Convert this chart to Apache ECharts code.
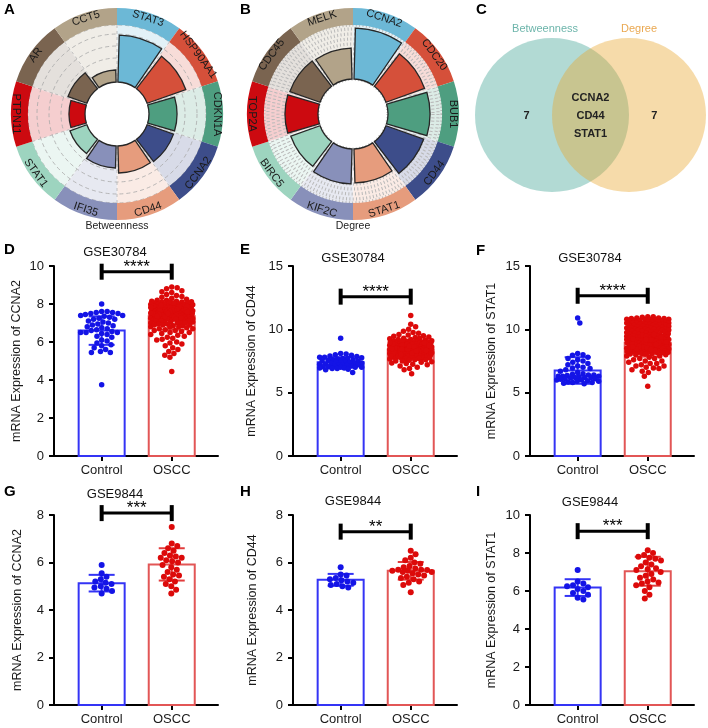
<!DOCTYPE html>
<html><head><meta charset="utf-8">
<script src="https://cdn.jsdelivr.net/npm/echarts@6/dist/echarts.min.js"></script>
<style>html,body{margin:0;padding:0;background:#fff}#c{width:708px;height:728px}</style>
</head><body><div id="c"></div>
<script>
// ---------- Panels A / B (circular bar plots) ----------
const betweenGenes = ['STAT3','HSP90AA1','CDKN1A','CCNA2','CD44','IFI35','STAT1','PTPN11','AR','CCT5'];
const betweenValues = [47,41,28,28,27,22,18,16,20,12];
const degreeGenes = ['CCNA2','CDC20','BUB1','CD44','STAT1','KIF2C','BIRC5','TOP2A','CDC45','MELK'];
const degreeValues = [51,41,42,40,34,35,31,33,32,31];
const ringColors = ['#6cb8d6','#d5503a','#4e9e80','#3d4d8a','#e69c7d','#8890ba','#9dd4bf','#cc0a10','#7a6450','#b2a389'];

// ---------- Panel C (Venn) ----------
const vennSets = ['Betweenness','Degree'];
const vennOnly = [7,7];
const vennShared = ['CCNA2','CD44','STAT1'];

// ---------- Panels D-I ----------
const groups = ['Control','OSCC'];
const panelTitles = ['GSE30784','GSE30784','GSE30784','GSE9844','GSE9844','GSE9844'];
const panelGenes = ['CCNA2','CD44','STAT1','CCNA2','CD44','STAT1'];
const yMaxes = [10,15,15,8,8,10];
const ySteps = [2,5,5,2,2,2];
const meanValues = [[6.6,7.35],[7.4,8.4],[6.75,8.95],[5.13,5.92],[5.27,5.65],[6.18,7.04]];
const sdValues = [[0.75,0.7],[0.4,0.6],[1.05,1.1],[0.35,0.68],[0.25,0.37],[0.44,0.76]];
const sigLevels = [9.7,12.58,12.65,8.08,7.3,9.15];
const sigStars = ['****','****','****','***','**','***'];

const ctrlCCNA2_30784 = [8.0,7.6,7.6,7.55,7.55,7.5,7.5,7.45,7.4,7.4,7.35,7.3,7.25,7.2,7.2,7.1,7.05,7.0,6.95,6.9,6.85,6.8,6.75,6.7,6.65,6.6,6.55,6.5,6.5,6.5,6.45,6.4,6.3,6.25,6.1,6.05,5.95,5.85,5.8,5.7,5.6,5.5,5.45,5.45,3.75];
const osccCCNA2_30784 = [8.9,8.85,8.8,8.7,8.65,8.6,8.5,8.45,8.4,8.35,
 8.3,8.25,8.2,8.2,8.15,8.1,8.1,8.05,8.0,8.0,8.0,7.95,7.9,7.9,7.9,7.85,7.85,7.8,7.8,7.8,
 7.75,7.75,7.7,7.7,7.7,7.65,7.65,7.65,7.6,7.6,7.6,7.6,7.55,7.55,7.55,7.5,7.5,7.5,7.5,7.45,7.45,7.45,7.4,7.4,7.4,7.4,7.35,7.35,7.35,7.3,7.3,7.3,7.3,7.25,7.25,7.25,7.2,7.2,7.2,7.2,
 7.15,7.15,7.1,7.1,7.1,7.05,7.05,7.0,7.0,7.0,6.95,6.95,6.9,6.9,6.85,6.85,6.8,6.8,6.75,6.7,6.7,6.65,6.6,6.6,6.55,6.5,6.5,6.45,6.4,6.35,
 6.3,6.25,6.2,6.15,6.1,6.0,5.95,5.9,5.8,5.7,5.6,5.5,5.4,5.3,5.2,4.45,
 8.15,8.1,8.05,8.0,7.95,7.9,7.85,7.8,7.75,7.7,7.65,7.6,7.55,7.5,7.45,7.4,7.35,7.3,7.25,7.2,
 8.12,8.08,7.98,7.96,7.93,7.88,7.81,7.78,7.73,7.69,7.63,7.58,7.53,7.48,7.44,7.38,7.33,7.28,7.22,7.18,
 7.8,7.7,7.6,7.5,7.4,7.3,7.2,7.1,7.0,6.9,6.8];
const ctrlCD44_30784 = [9.3,8.1,8.05,8.0,7.95,7.9,7.85,7.8,7.8,7.75,7.7,7.7,7.65,7.6,7.6,7.55,7.5,7.5,7.45,7.45,7.4,7.4,7.35,7.3,7.3,7.25,7.25,7.2,7.2,7.2,7.15,7.1,7.1,7.05,7.05,7.0,7.0,7.0,6.95,6.95,6.9,6.9,6.85,6.8,6.6];
const osccCD44_30784 = [11.1,10.4,10.2,10.0,9.85,9.75,9.7,9.6,9.55,9.5,9.45,9.4,9.35,9.3,9.3,9.25,9.2,9.2,9.15,9.1,
 9.1,9.05,9.05,9.0,9.0,9.0,8.95,8.95,8.9,8.9,8.9,8.85,8.85,8.8,8.8,8.8,8.75,8.75,8.7,8.7,8.7,8.65,8.65,8.6,8.6,8.6,8.6,8.55,8.55,8.55,
 8.5,8.5,8.5,8.5,8.5,8.5,8.45,8.45,8.45,8.45,8.45,8.45,8.4,8.4,8.4,8.4,8.4,8.4,8.4,8.35,8.35,8.35,8.35,8.35,8.35,8.3,8.3,8.3,8.3,8.3,8.3,8.25,8.25,8.25,8.25,8.25,8.2,8.2,8.2,8.2,8.2,8.15,8.15,8.15,8.15,8.15,8.1,8.1,8.1,8.1,8.1,8.05,8.05,8.05,8.05,8.0,8.0,8.0,8.0,
 7.95,7.95,7.9,7.9,7.9,7.85,7.85,7.8,7.8,7.8,7.75,7.75,7.7,7.7,7.65,7.6,7.6,7.55,7.5,7.5,7.45,7.4,7.35,7.3,7.25,7.2,7.1,7.0,6.9,6.8,
 8.52,8.47,8.42,8.37,8.32,8.27,8.22,8.17,8.12,8.62,8.72,8.82,8.92,9.02,8.48,8.38,8.28,8.18,8.67,8.77,8.87,8.97,8.07,8.02,7.92,6.5,8.43,8.33];
const ctrlSTAT1_30784 = [10.9,10.5,8.1,8.0,7.95,7.8,7.7,7.6,7.5,7.4,7.3,7.2,7.1,7.0,6.95,6.9,6.8,6.7,6.6,6.5,6.45,6.4,6.4,6.35,6.3,6.3,6.3,6.25,6.2,6.2,6.2,6.15,6.1,6.1,6.05,6.0,6.0,5.95,5.9,5.9,5.85,5.8,5.8,5.75,5.7];
const osccSTAT1_30784 = [11.0,11.0,10.95,10.9,10.9,10.85,10.85,10.8,10.8,10.8,10.75,10.75,10.7,10.7,10.7,10.65,10.6,10.6,10.6,10.55,
 10.5,10.5,10.5,10.5,10.5,10.45,10.45,10.4,10.4,10.4,10.35,10.35,10.3,10.3,10.3,10.25,10.25,10.2,10.2,10.2,10.15,10.1,10.1,10.1,10.05,10.05,10.0,10.0,10.0,10.0,
 9.95,9.95,9.9,9.9,9.9,9.85,9.85,9.8,9.8,9.8,9.75,9.7,9.7,9.65,9.6,9.6,9.55,9.5,9.5,9.45,9.4,9.4,9.35,9.3,9.3,9.25,9.2,9.2,9.15,9.1,
 9.05,9.0,9.0,8.95,8.9,8.85,8.8,8.8,8.75,8.7,8.65,8.6,8.55,8.5,8.45,8.4,8.35,8.3,8.25,8.2,8.15,8.1,8.05,8.0,7.9,7.8,7.7,7.6,7.5,7.4,
 7.3,7.2,7.1,7.0,6.9,6.8,6.6,6.3,5.5,
 9.6,9.5,9.4,9.3,9.2,9.1,9.0,8.9,8.8,8.7,8.6,8.5,8.4,8.3,8.2,8.1,8.0,
 9.55,9.45,9.35,9.25,9.15,9.05,8.95,8.85,8.75,8.65,8.55,8.45,8.35,8.25,8.15,8.05,
 9.6,9.4,9.2,9.0,8.8,8.6,8.4,8.2,7.9,7.7,7.5,7.3,7.1,6.95,6.7];
const ctrlCCNA2_9844 = [5.9,5.55,5.4,5.3,5.2,5.15,5.1,5.0,4.95,4.9,4.8,4.7];
const osccCCNA2_9844 = [7.5,6.8,6.7,6.6,6.5,6.4,6.3,6.25,6.2,6.2,6.1,6.05,6.0,5.9,5.8,5.7,5.6,5.5,5.45,5.4,5.3,5.2,5.1,5.0,4.85,4.7];
const ctrlCD44_9844 = [5.8,5.5,5.45,5.35,5.3,5.25,5.2,5.15,5.1,5.05,5.0,4.95];
const osccCD44_9844 = [6.5,6.35,6.2,6.1,6.0,5.95,5.85,5.8,5.75,5.7,5.7,5.68,5.65,5.65,5.6,5.6,5.55,5.5,5.45,5.4,5.35,5.3,5.2,5.15,5.05,4.75];
const ctrlSTAT1_9844 = [7.1,6.5,6.4,6.3,6.25,6.2,6.1,6.0,5.9,5.8,5.65,5.55];
const osccSTAT1_9844 = [8.15,8.0,7.9,7.8,7.75,7.7,7.6,7.5,7.4,7.3,7.2,7.15,7.1,7.0,6.9,6.8,6.7,6.6,6.5,6.45,6.4,6.3,6.2,6.0,5.8,5.6];
const panelPoints = [
  [ctrlCCNA2_30784, osccCCNA2_30784],
  [ctrlCD44_30784, osccCD44_30784],
  [ctrlSTAT1_30784, osccSTAT1_30784],
  [ctrlCCNA2_9844, osccCCNA2_9844],
  [ctrlCD44_9844, osccCD44_9844],
  [ctrlSTAT1_9844, osccSTAT1_9844]
];

// ---------- layout & style (not data) ----------
const FONT = '"Liberation Sans", Arial, Helvetica, sans-serif';
const ringA = {cx:117, cy:114, r0:32, r1:89, r2:106};
const ringB = {cx:353, cy:114, r0:35, r1:89, r2:106};
const panelBox = [
  {left:54, top:266, nameGap:31}, {left:293, top:266, nameGap:35}, {left:530, top:266, nameGap:32},
  {left:54, top:515, nameGap:30}, {left:293, top:515, nameGap:34}, {left:530, top:515, nameGap:32}
];
const GW = 164, GH = 190, XMIN = 0.32, XMAX = 2.66, BARW = 46;
const pxPerX = GW / (XMAX - XMIN);
const groupStroke = ['#3434f5', '#e25656'];
const groupDot = ['#1414e6', '#dc0a0a'];
const groupErr = ['#3434f5', '#e23c3c'];

function swarm(vals, pxPerUnit, d, maxHalf) {
  const idx = vals.map((v, i) => i).sort((a, b) => vals[b] - vals[a]);
  const placed = [], off = new Array(vals.length);
  for (const i of idx) {
    const y = vals[i] * pxPerUnit;
    const near = placed.filter(p => Math.abs(p.y - y) < d);
    const cands = [0];
    near.forEach(p => { const dx = Math.sqrt(d * d - (p.y - y) * (p.y - y)); cands.push(p.x + dx, p.x - dx); });
    cands.sort((a, b) => Math.abs(a) - Math.abs(b));
    let best = null;
    for (const c of cands) {
      if (Math.abs(c) > maxHalf) break;
      if (near.every(p => (p.x - c) * (p.x - c) + (p.y - y) * (p.y - y) >= d * d - 1e-6)) { best = c; break; }
    }
    if (best === null) {
      let bestScore = -1;
      for (let c = -maxHalf; c <= maxHalf + 1e-9; c += 0.5) {
        let m = Infinity;
        near.forEach(p => { m = Math.min(m, (p.x - c) * (p.x - c) + (p.y - y) * (p.y - y)); });
        if (m > bestScore + 1e-9) { bestScore = m; best = c; }
      }
    }
    placed.push({x: best, y}); off[i] = best;
  }
  return off;
}

const grid = [], xAxis = [], yAxis = [], series = [];
panelBox.forEach((b, k) => {
  grid.push({left: b.left, top: b.top, width: GW, height: GH, containLabel: false});
  xAxis.push({
    gridIndex: k, type: 'value', min: XMIN, max: XMAX,
    axisLine: {show: true, onZero: false, lineStyle: {color: '#000', width: 2}},
    axisTick: {show: true, customValues: [1, 2], length: 5, lineStyle: {color: '#000', width: 2}},
    axisLabel: {customValues: [1, 2], formatter: v => groups[Math.round(v) - 1] || '', fontSize: 13, color: '#1a1a1a', margin: 8, fontFamily: FONT},
    splitLine: {show: false}
  });
  yAxis.push({
    gridIndex: k, type: 'value', min: 0, max: yMaxes[k], interval: ySteps[k],
    name: 'mRNA Expression of ' + panelGenes[k], nameLocation: 'middle', nameGap: b.nameGap,
    nameTextStyle: {fontSize: 12.5, color: '#1a1a1a', fontFamily: FONT},
    axisLine: {show: true, lineStyle: {color: '#000', width: 2}},
    axisTick: {show: true, length: 5, lineStyle: {color: '#000', width: 2}},
    axisLabel: {fontSize: 13, color: '#1a1a1a', margin: 10, fontFamily: FONT},
    splitLine: {show: false}
  });
  // bars
  series.push({
    type: 'custom', xAxisIndex: k, yAxisIndex: k, z: 2, silent: true,
    encode: {x: 0, y: 1},
    data: groups.map((g, i) => [i + 1, meanValues[k][i], i]),
    renderItem(params, api) {
      const x = api.value(0), m = api.value(1), gi = api.value(2);
      const t = api.coord([x, m]), bt = api.coord([x, 0]);
      return {type: 'rect', shape: {x: t[0] - BARW / 2, y: t[1], width: BARW, height: bt[1] - t[1]},
        style: {fill: '#fff', stroke: groupStroke[gi], lineWidth: 2}};
    }
  });
  // error bars (mean ± SD), under the points
  series.push({
    type: 'custom', xAxisIndex: k, yAxisIndex: k, z: 3, silent: true,
    encode: {x: 0, y: 1},
    data: groups.map((g, i) => [i + 1, meanValues[k][i], sdValues[k][i], i]),
    renderItem(params, api) {
      const x = api.value(0), m = api.value(1), s = api.value(2), gi = api.value(3);
      const hi = api.coord([x, m + s]), lo = api.coord([x, m - s]);
      const st = {stroke: groupErr[gi], lineWidth: 2};
      return {type: 'group', children: [
        {type: 'line', shape: {x1: hi[0], y1: hi[1], x2: lo[0], y2: lo[1]}, style: st},
        {type: 'line', shape: {x1: hi[0] - 13, y1: hi[1], x2: hi[0] + 13, y2: hi[1]}, style: st},
        {type: 'line', shape: {x1: lo[0] - 13, y1: lo[1], x2: lo[0] + 13, y2: lo[1]}, style: st}
      ]};
    }
  });
  // points
  const pxPerY = GH / yMaxes[k];
  const dotSize = k < 3 ? 5.5 : 6;
  groups.forEach((g, gi) => {
    const vals = panelPoints[k][gi];
    const off = swarm(vals, pxPerY, dotSize, BARW / 2 - 2);
    series.push({
      type: 'scatter', xAxisIndex: k, yAxisIndex: k, z: 4, silent: true,
      symbolSize: dotSize, itemStyle: {color: groupDot[gi], opacity: 1},
      data: vals.map((v, j) => [gi + 1 + off[j] / pxPerX, v])
    });
  });
  // significance bracket
  series.push({
    type: 'custom', xAxisIndex: k, yAxisIndex: k, z: 5, silent: true, clip: false,
    encode: {x: 0, y: 2},
    data: [[1, 2, sigLevels[k]]],
    renderItem(params, api) {
      const a = api.coord([api.value(0), api.value(2)]), c = api.coord([api.value(1), api.value(2)]);
      const st = {stroke: '#000', lineWidth: 3};
      return {type: 'group', children: [
        {type: 'line', shape: {x1: a[0], y1: a[1], x2: c[0], y2: c[1]}, style: st},
        {type: 'line', shape: {x1: a[0], y1: a[1] - 8, x2: a[0], y2: a[1] + 8}, style: {stroke: '#000', lineWidth: 4}},
        {type: 'line', shape: {x1: c[0], y1: c[1] - 8, x2: c[0], y2: c[1] + 8}, style: {stroke: '#000', lineWidth: 4}},
        {type: 'text', style: {text: sigStars[k], x: (a[0] + c[0]) / 2, y: a[1] + 4, align: 'center', verticalAlign: 'bottom',
          font: '17px ' + FONT, fill: '#000'}}
      ]};
    }
  });
});

// Venn grid (index 6)
grid.push({left: 475, top: 38, width: 231, height: 154});
xAxis.push({gridIndex: 6, type: 'value', min: 0, max: 3, show: false});
yAxis.push({gridIndex: 6, type: 'value', min: -1, max: 1, show: false});
const vennFill = ['rgba(101,181,169,0.5)', 'rgba(232,165,42,0.4)'];
const vennTitleColor = ['#6db5ab', '#eaa851'];
series.push({
  type: 'custom', xAxisIndex: 6, yAxisIndex: 6, z: 2, silent: true, clip: false,
  encode: {x: 0, y: 1},
  data: vennSets.map((s, i) => [i + 1, 0, i]),
  renderItem(params, api) {
    const i = api.value(2);
    const c = api.coord([api.value(0), api.value(1)]);
    const r = api.size([1, 0])[0];
    const side = i === 0 ? -1 : 1;
    return {type: 'group', children: [
      {type: 'circle', shape: {cx: c[0], cy: c[1], r: r}, style: {fill: vennFill[i]}},
      {type: 'text', style: {text: vennSets[i], x: c[0] + side * (i === 0 ? 0.09 : 0.13) * r, y: c[1] - 1.12 * r,
        align: 'center', verticalAlign: 'middle', font: '11px ' + FONT, fill: vennTitleColor[i]}},
      {type: 'text', style: {text: String(vennOnly[i]), x: c[0] + side * 0.33 * r, y: c[1] + 1,
        align: 'center', verticalAlign: 'middle', font: 'bold 11px ' + FONT, fill: '#222'}}
    ]};
  }
});
series.push({
  type: 'custom', xAxisIndex: 6, yAxisIndex: 6, z: 3, silent: true, clip: false,
  encode: {x: 0, y: 1},
  data: [[1.5, 0]],
  renderItem(params, api) {
    const c = api.coord([api.value(0), api.value(1)]);
    return {type: 'group', children: vennShared.map((g, j) => ({
      type: 'text', style: {text: g, x: c[0], y: c[1] + (j - 1) * 18 + 1, align: 'center', verticalAlign: 'middle',
        font: 'bold 11px ' + FONT, fill: '#222'}
    }))};
  }
});

// Polar panels
const rings = [ringA, ringB];
const ringGenes = [betweenGenes, degreeGenes];
const ringValues = [betweenValues, degreeValues];
const ringMax = [57, 54];
const ringStep = [12, 5];
const ringSplitStyle = [
  {color: '#a8a8a8', type: [4, 3], width: 0.8},
  {color: '#b9b9b9', type: [1, 2.4], width: 3.2}
];
const polar = rings.map(r => ({center: [r.cx, r.cy], radius: [r.r0, r.r1]}));
const angleAxis = rings.map((r, p) => ({
  polarIndex: p, type: 'category', data: ringGenes[p], startAngle: 90, clockwise: true, boundaryGap: true, z: 1,
  axisLine: {show: false}, axisTick: {show: false}, axisLabel: {show: false},
  splitLine: {show: p === 0, lineStyle: {color: '#b0b0b0', type: [3, 3], width: 0.8}}
}));
const radiusAxis = rings.map((r, p) => ({
  polarIndex: p, type: 'value', min: 0, max: ringMax[p], interval: ringStep[p], z: 1,
  axisLine: {show: false}, axisTick: {show: false}, axisLabel: {show: false},
  splitLine: {show: true, lineStyle: ringSplitStyle[p]}
}));
rings.forEach((r, p) => {
  series.push({
    type: 'pie', center: [r.cx, r.cy], radius: [r.r0, r.r1], z: 0, silent: true, animation: false,
    label: {show: false}, labelLine: {show: false},
    data: ringGenes[p].map((g, i) => ({name: g, value: 1, itemStyle: {color: ringColors[i], opacity: 0.2, borderColor: '#fff', borderWidth: 1.5}}))
  });
  series.push({
    type: 'bar', coordinateSystem: 'polar', polarIndex: p, z: 3, silent: true, barCategoryGap: '9%',
    itemStyle: {borderColor: '#262626', borderWidth: 1.3},
    data: ringValues[p].map((v, i) => ({value: v, itemStyle: {color: ringColors[i]}}))
  });
  series.push({
    type: 'pie', center: [r.cx, r.cy], radius: [r.r1, r.r2], z: 3, silent: true, animation: false,
    labelLine: {show: false},
    label: {show: true, position: 'inside', rotate: 'tangential', fontSize: 11, color: '#1a1a1a', fontFamily: FONT},
    itemStyle: {borderWidth: 0},
    data: ringGenes[p].map((g, i) => ({name: g, value: 1, itemStyle: {color: ringColors[i]}}))
  });
});

// free texts
const letterPos = [['A', 4, 10], ['B', 240, 10], ['C', 476, 10], ['D', 4, 250], ['E', 240, 250], ['F', 476, 251], ['G', 4, 492], ['H', 240, 492], ['I', 476, 492]];
const titlePos = [[115, 252], [353, 258], [590, 258], [115, 494], [353, 501], [590, 502]];
const graphic = [];
letterPos.forEach(l => graphic.push({type: 'text', x: l[1], y: l[2], style: {text: l[0], font: 'bold 15px ' + FONT, fill: '#000', textAlign: 'left', textVerticalAlign: 'middle'}}));
titlePos.forEach((t, k) => graphic.push({type: 'text', x: t[0], y: t[1], style: {text: panelTitles[k], font: '13px ' + FONT, fill: '#111', textAlign: 'center', textVerticalAlign: 'middle'}}));
graphic.push({type: 'text', x: ringA.cx, y: 226, style: {text: 'Betweenness', font: '10.5px ' + FONT, fill: '#222', textAlign: 'center', textVerticalAlign: 'middle'}});
graphic.push({type: 'text', x: ringB.cx, y: 226, style: {text: 'Degree', font: '10.5px ' + FONT, fill: '#222', textAlign: 'center', textVerticalAlign: 'middle'}});

const chart = echarts.init(document.getElementById('c'), null, {renderer: 'canvas', width: 708, height: 728});
chart.setOption({
  animation: false,
  backgroundColor: '#fff',
  textStyle: {fontFamily: FONT},
  grid, xAxis, yAxis, polar, angleAxis, radiusAxis, series, graphic
});
</script></body></html>
